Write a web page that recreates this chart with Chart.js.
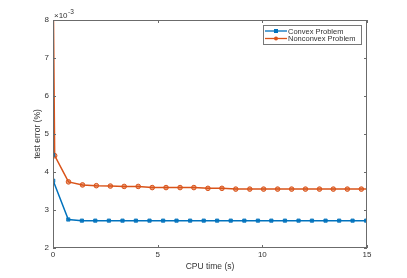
<!DOCTYPE html>
<html>
<head>
<meta charset="utf-8">
<script src="https://cdn.jsdelivr.net/npm/chart.js@4"></script>
<style>
  html, body { margin: 0; padding: 0; background: #fff; }
  #wrap { width: 407px; height: 278px; }
</style>
</head>
<body>
<div id="wrap"><canvas id="chart" width="407" height="278"></canvas></div>
<script>
// CPU time (s) and test error (x1e-3 %) for each method
const convexTime = [0, 0.01, 0.73, 1.38, 2.02, 2.67, 3.32, 3.96, 4.61, 5.26, 5.90, 6.55, 7.20, 7.84,
    8.49, 9.14, 9.79, 10.43, 11.08, 11.73, 12.37, 13.02, 13.67, 14.31, 14.96, 15.4];
const convexError = [4.45, 3.77, 2.75, 2.72, 2.72, 2.72, 2.72, 2.72, 2.72, 2.72, 2.72, 2.72, 2.72, 2.72,
    2.72, 2.72, 2.72, 2.72, 2.72, 2.72, 2.72, 2.72, 2.72, 2.72, 2.72, 2.72];
const nonconvexTime = [0, 0.08, 0.74, 1.41, 2.07, 2.74, 3.40, 4.07, 4.74, 5.40, 6.07, 6.73, 7.40, 8.07,
    8.73, 9.40, 10.06, 10.73, 11.40, 12.06, 12.73, 13.39, 14.06, 14.73, 15.39];
const nonconvexError = [9.5, 4.43, 3.74, 3.66, 3.64, 3.63, 3.62, 3.62, 3.59, 3.59, 3.59, 3.59, 3.57, 3.57,
    3.55, 3.55, 3.55, 3.55, 3.55, 3.55, 3.55, 3.55, 3.55, 3.55, 3.55];
const seriesNames = ["Convex Problem", "Nonconvex Problem"];
const xTicks = [0, 5, 10, 15];
const yTicks = [2, 3, 4, 5, 6, 7, 8];

const blue = "#0072BD";
const orange = "#D95319";
const axisColor = "#6b6b6b";
const textColor = "#333";
const font = "Liberation Sans, Arial, sans-serif";

function pairs(xs, ys) {
    return xs.map((x, i) => ({ x: x, y: ys[i] }));
}

// box, inward ticks, exponent label and legend, matlab style
const matlabAxes = {
    id: "matlabAxes",
    afterDraw(chart) {
        const ctx = chart.ctx;
        const a = chart.chartArea;
        const xs = chart.scales.x;
        const ys = chart.scales.y;
        ctx.save();
        ctx.strokeStyle = axisColor;
        ctx.lineWidth = 1;
        ctx.strokeRect(a.left + 0.5, a.top + 0.5, a.right - a.left - 1, a.bottom - a.top - 1);
        ctx.beginPath();
        xTicks.forEach(v => {
            const px = Math.round(xs.getPixelForValue(v)) + 0.5;
            ctx.moveTo(px, a.bottom); ctx.lineTo(px, a.bottom - 3);
            ctx.moveTo(px, a.top); ctx.lineTo(px, a.top + 3);
        });
        yTicks.forEach(v => {
            const py = Math.round(ys.getPixelForValue(v)) + 0.5;
            ctx.moveTo(a.left, py); ctx.lineTo(a.left + 3, py);
            ctx.moveTo(a.right, py); ctx.lineTo(a.right - 3, py);
        });
        ctx.stroke();

        // x10^-3 exponent
        ctx.fillStyle = textColor;
        ctx.textBaseline = "alphabetic";
        ctx.textAlign = "left";
        ctx.font = "8px " + font;
        ctx.fillText("\u00d710", a.left + 1, a.top - 2);
        const w = ctx.measureText("\u00d710").width;
        ctx.font = "6.5px " + font;
        ctx.fillText("-3", a.left + 1.5 + w, a.top - 6);

        // legend
        const lx = 263, ly = 25, lw = 98, lh = 19;
        ctx.fillStyle = "#fff";
        ctx.fillRect(lx, ly, lw, lh);
        ctx.strokeStyle = "#777";
        ctx.strokeRect(lx + 0.5, ly + 0.5, lw, lh);
        const rows = [
            { name: seriesNames[0], color: blue, square: true },
            { name: seriesNames[1], color: orange, square: false }
        ];
        rows.forEach((r, i) => {
            const y = ly + 6 + i * 7.5;
            ctx.strokeStyle = r.color;
            ctx.lineWidth = 1.3;
            ctx.beginPath();
            ctx.moveTo(lx + 2, y); ctx.lineTo(lx + 24, y);
            ctx.stroke();
            ctx.fillStyle = r.color;
            if (r.square) {
                ctx.fillRect(lx + 11, y - 2, 4, 4);
            } else {
                ctx.beginPath();
                ctx.arc(lx + 13, y, 2, 0, Math.PI * 2);
                ctx.fill();
            }
            ctx.fillStyle = textColor;
            ctx.font = "7.5px " + font;
            ctx.textBaseline = "middle";
            ctx.fillText(r.name, lx + 25, y + 0.5);
        });
        ctx.restore();
    }
};

new Chart(document.getElementById("chart"), {
    type: "line",
    data: {
        datasets: [
            {
                label: seriesNames[0],
                data: pairs(convexTime, convexError),
                borderColor: blue,
                backgroundColor: blue,
                borderWidth: 1.5,
                pointStyle: "rect",
                pointRadius: 2.3,
                pointBorderWidth: 0.8,
                pointBackgroundColor: "rgba(0,114,189,0.85)",
                tension: 0
            },
            {
                label: seriesNames[1],
                data: pairs(nonconvexTime, nonconvexError),
                borderColor: orange,
                backgroundColor: orange,
                borderWidth: 1.5,
                pointStyle: "circle",
                pointRadius: 2.3,
                pointBorderWidth: 1,
                pointBackgroundColor: "rgba(217,83,25,0.55)",
                tension: 0
            }
        ]
    },
    options: {
        responsive: false,
        animation: false,
        devicePixelRatio: 1,
        layout: { padding: { left: 0, right: 40, top: 20, bottom: 0 } },
        plugins: {
            legend: { display: false },
            tooltip: { enabled: false }
        },
        scales: {
            x: {
                type: "linear",
                min: 0,
                max: 15,
                afterFit(scale) { scale.height = 30; },
                afterBuildTicks(scale) { scale.ticks = xTicks.map(v => ({ value: v })); },
                grid: { display: false, drawTicks: false },
                border: { display: false },
                ticks: {
                    color: textColor,
                    font: { family: font, size: 8 },
                    padding: 2,
                    maxRotation: 0
                },
                title: {
                    display: true,
                    text: "CPU time (s)",
                    color: textColor,
                    font: { family: font, size: 8.5 },
                    padding: { top: 1, bottom: 6 }
                }
            },
            y: {
                type: "linear",
                min: 2,
                max: 8,
                afterFit(scale) { scale.width = 53; },
                afterBuildTicks(scale) { scale.ticks = yTicks.map(v => ({ value: v })); },
                grid: { display: false, drawTicks: false },
                border: { display: false },
                ticks: {
                    color: textColor,
                    font: { family: font, size: 8 },
                    padding: 4
                },
                title: {
                    display: true,
                    text: "test error (%)",
                    color: textColor,
                    font: { family: font, size: 8.5 },
                    padding: { top: 33, bottom: 0 }
                }
            }
        }
    },
    plugins: [matlabAxes]
});
</script>
</body>
</html>
